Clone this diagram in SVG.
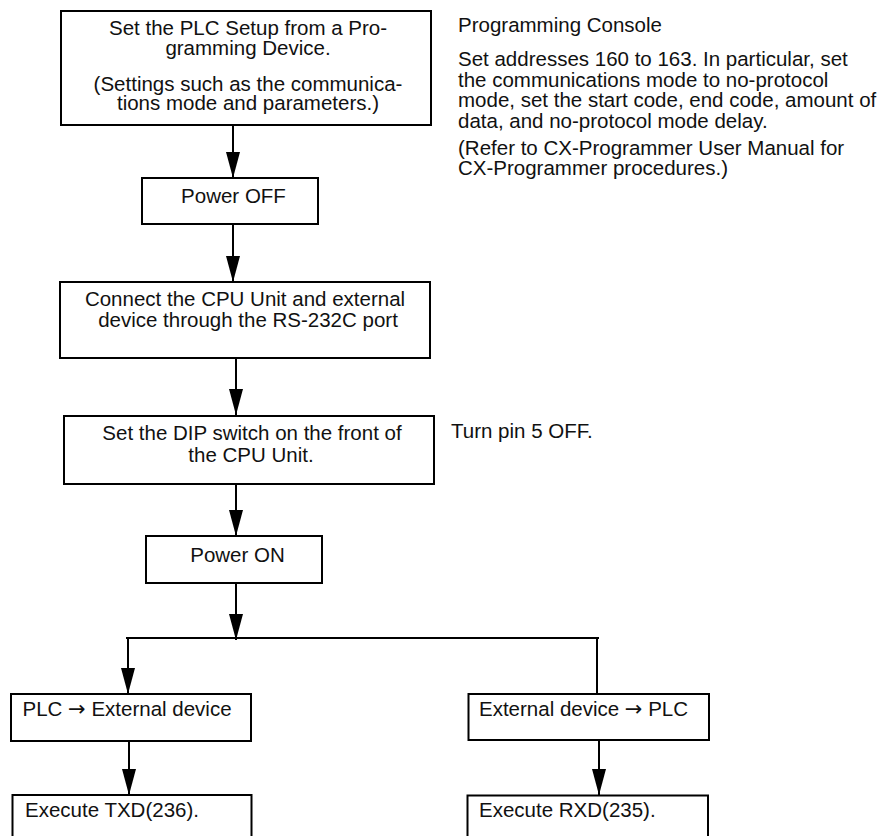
<svg xmlns="http://www.w3.org/2000/svg" width="879" height="836" viewBox="0 0 879 836">
<style>
.box{fill:#fff;stroke:#000;stroke-width:2}
.t{font-family:"Liberation Sans",Arial,Helvetica,sans-serif;font-size:20.5px;fill:#111}
.c{text-anchor:middle}
.arw{font-family:"DejaVu Sans",sans-serif;font-size:21px}
.ln{stroke:#000;stroke-width:2;fill:none}
.ar{marker-end:url(#ah)}
</style>
<defs>
<marker id="ah" markerUnits="userSpaceOnUse" markerWidth="28" markerHeight="16" refX="26" refY="7" orient="auto">
<path d="M0,0 L26,7 L0,14 z" fill="#000"/>
</marker>
</defs>
<rect width="879" height="836" fill="#fff"/>
<g id="connectors">
<line class="ln ar" x1="233" y1="125" x2="233" y2="178"/>
<line class="ln ar" x1="233" y1="224" x2="233" y2="282"/>
<line class="ln ar" x1="236" y1="358" x2="236" y2="415"/>
<line class="ln ar" x1="236" y1="484" x2="236" y2="536"/>
<line class="ln ar" x1="236" y1="583" x2="236" y2="640"/>
<line class="ln" x1="126" y1="638" x2="599" y2="638"/>
<line class="ln ar" x1="128" y1="638" x2="128" y2="694"/>
<line class="ln" x1="597" y1="638" x2="597" y2="694"/>
<line class="ln ar" x1="129" y1="741" x2="129" y2="795"/>
<line class="ln ar" x1="599" y1="740" x2="599" y2="795"/>
</g>
<g id="n1">
<rect class="box" x="61" y="11" width="370" height="114"/>
<text class="t c"><tspan x="248" y="35">Set the PLC Setup from a Pro-</tspan><tspan x="248" y="55">gramming Device.</tspan><tspan x="248" y="91">(Settings such as the communica-</tspan><tspan x="248" y="110">tions mode and parameters.)</tspan></text>
</g>
<g id="note1">
<text class="t"><tspan x="458" y="32">Programming Console</tspan><tspan x="458" y="66">Set addresses 160 to 163. In particular, set</tspan><tspan x="458" y="86.5">the communications mode to no-protocol</tspan><tspan x="458" y="107">mode, set the start code, end code, amount of</tspan><tspan x="458" y="127.5">data, and no-protocol mode delay.</tspan><tspan x="458" y="154.5">(Refer to CX-Programmer User Manual for</tspan><tspan x="458" y="175">CX-Programmer procedures.)</tspan></text>
</g>
<g id="n2">
<rect class="box" x="142" y="178" width="176" height="46"/>
<text class="t c" x="233.5" y="203">Power OFF</text>
</g>
<g id="n3">
<rect class="box" x="60" y="282" width="370" height="76"/>
<text class="t c"><tspan x="245" y="306">Connect the CPU Unit and external</tspan><tspan x="248" y="326.5">device through the RS-232C port</tspan></text>
</g>
<g id="n4">
<rect class="box" x="64" y="416" width="370" height="68"/>
<text class="t c"><tspan x="252" y="440">Set the DIP switch on the front of</tspan><tspan x="251" y="461.5">the CPU Unit.</tspan></text>
</g>
<g id="note2">
<text class="t" x="451" y="438">Turn pin 5 OFF.</text>
</g>
<g id="n5">
<rect class="box" x="146" y="536" width="176" height="47"/>
<text class="t c" x="237.5" y="561.5">Power ON</text>
</g>
<g id="n6">
<rect class="box" x="11" y="694" width="240" height="47"/>
<text class="t" x="22.5" y="716">PLC <tspan class="arw">→</tspan> External device</text>
</g>
<g id="n7">
<rect class="box" x="468.5" y="694" width="240.5" height="46"/>
<text class="t" x="479" y="715.5">External device <tspan class="arw">→</tspan> PLC</text>
</g>
<g id="n8">
<rect class="box" x="12.5" y="795" width="239" height="70"/>
<text class="t" x="25" y="817">Execute TXD(236).</text>
</g>
<g id="n9">
<rect class="box" x="467.5" y="795.5" width="240.5" height="70"/>
<text class="t" x="479" y="817">Execute RXD(235).</text>
</g>
</svg>
